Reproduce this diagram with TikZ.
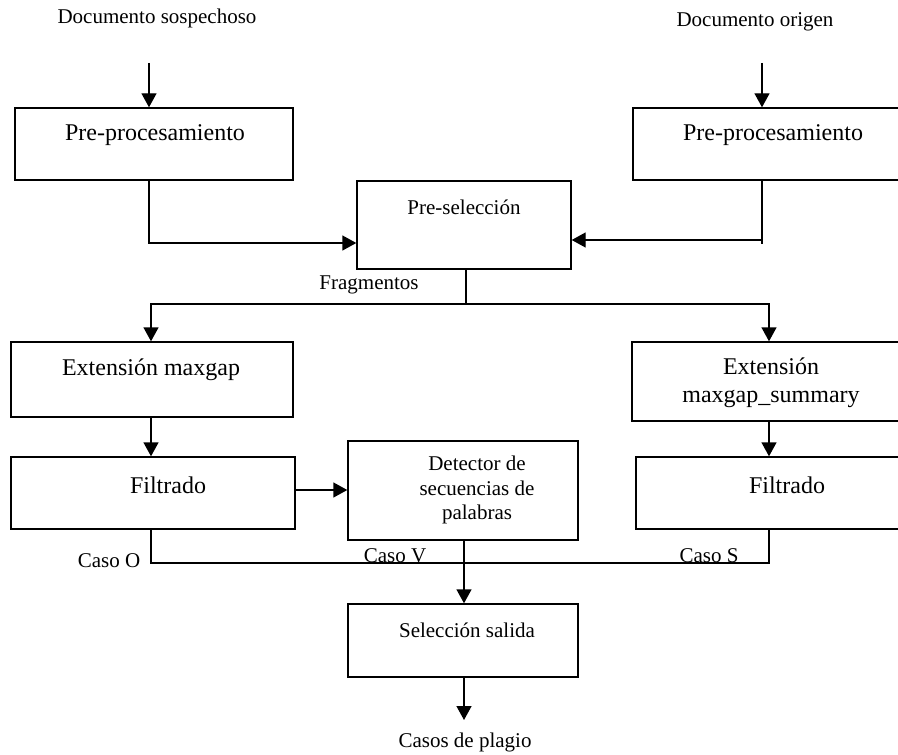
\documentclass[tikz,border=0pt]{standalone}
\usepackage{fontspec}
\setmainfont{Liberation Serif}
\usetikzlibrary{arrows.meta,fit}
\tikzset{
  box/.style={draw,line width=0.7pt,inner sep=0pt,rectangle},
  arr/.style={line width=0.7pt,-{Triangle[length=7pt,width=7.5pt]}},
  ln/.style={line width=0.7pt},
  big/.style={font=\fontsize{12}{14}\selectfont,inner sep=0pt,align=center},
  small/.style={font=\fontsize{10.5}{12.25}\selectfont,inner sep=0pt,align=center}
}
\begin{document}
\begin{tikzpicture}[x=0.5pt,y=-0.5pt]
\useasboundingbox (0,0) rectangle (898,754);
% boxes
\node[box,fit={(15,108) (293,180)}] (pp1) {};
\node[box,fit={(633,108) (910,180)}] (pp2) {};
\node[box,fit={(357,181) (571,269)}] (pre) {};
\node[box,fit={(11,342) (293,417)}] (ext1) {};
\node[box,fit={(632,342) (910,421)}] (ext2) {};
\node[box,fit={(11,457) (295,529)}] (fil1) {};
\node[box,fit={(348,441) (578,540)}] (det) {};
\node[box,fit={(636,457) (910,529)}] (fil2) {};
\node[box,fit={(348,604) (578,677)}] (sel) {};
% texts
\node[small] (t1) at (157,18) {Documento sospechoso};
\node[small] (t2) at (755,22) {Documento origen};
\node[big] (t3) at (155,135) {Pre-procesamiento};
\node[big] (t4) at (773,135) {Pre-procesamiento};
\node[small] (t5) at (464,207) {Pre-selección};
\node[small] (t6) at (369,285) {Fragmentos};
\node[big] (t7) at (151,370) {Extensión maxgap};
\node[big] (t8) at (771,383) {Extensión\\maxgap\_summary};
\node[big] (t9) at (168,485) {Filtrado};
\node[big] (t10) at (787,485) {Filtrado};
\node[small] (t11) at (477,490) {Detector de\\secuencias de\\palabras};
\node[small] (t12) at (109,561) {Caso O};
\node[small] (t13) at (395,556) {Caso V};
\node[small] (t14) at (709,556) {Caso S};
\node[small] (t15) at (467,630) {Selección salida};
\node[small] (t16) at (465,742) {Casos de plagio};
% coordinates
\coordinate (in1) at (149,63);
\coordinate (in2) at (762,63);
\coordinate (a1) at (149,243);
\coordinate (a2) at (762,240);
\coordinate (f) at (466,304);
\coordinate (fl) at (151,304);
\coordinate (fr) at (769,304);
\coordinate (d) at (0,490);
\coordinate (c) at (0,563);
\coordinate (out) at (464,720);
% connectors
\draw[arr] (in1) -- (in1 |- pp1.north);
\draw[arr] (in2) -- (in2 |- pp2.north);
\draw[arr] (pp1.south -| a1) -- (a1) -- (a1 -| pre.west);
\draw[arr] (pp2.south -| a2) -- (a2) -- (a2 -| pre.east);
\draw[ln] (a2) -- ++(0,4);
\draw[arr] (pre.south -| f) -- (f) -| (fl |- ext1.north);
\draw[arr] (f) -| (fr |- ext2.north);
\draw[arr] (ext1.south -| fl) -- (fil1.north -| fl);
\draw[arr] (ext2.south -| fr) -- (fil2.north -| fr);
\draw[arr] (d -| fil1.east) -- (d -| det.west);
\draw[ln] (fil1.south -| fl) |- (fr |- c) -- (fr |- fil2.south);
\draw[arr] (det.south -| out) -- (sel.north -| out);
\draw[arr] (sel.south -| out) -- (out);
\end{tikzpicture}
\end{document}
